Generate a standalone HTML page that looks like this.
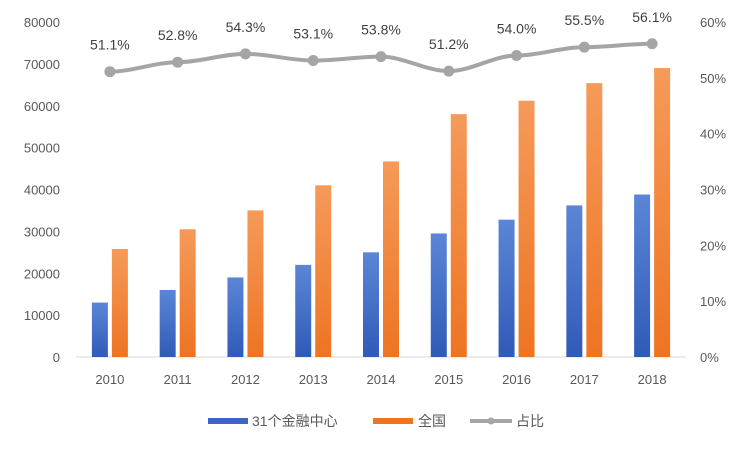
<!DOCTYPE html>
<html><head><meta charset="utf-8"><style>
body{margin:0;background:#fff;}
svg{display:block;font-family:"Liberation Sans","Noto Sans CJK SC",sans-serif;}
</style></head><body>
<svg id="c" width="750" height="450"></svg>
<script>
const categories=['2010','2011','2012','2013','2014','2015','2016','2017','2018'];
const centerValues=[13000,16000,19000,22000,25000,29500,32800,36200,38800];
const nationalValues=[25800,30500,35000,41000,46700,58000,61200,65400,69000];
const shareValues=[51.1,52.8,54.3,53.1,53.8,51.2,54.0,55.5,56.1];
const leftTicks=[0,10000,20000,30000,40000,50000,60000,70000,80000];
const rightTicks=[0,10,20,30,40,50,60];
const NS='http://www.w3.org/2000/svg';
const svg=document.getElementById('c');
const L=76,R=686,T=22,B=357;
const band=(R-L)/categories.length;
const x=i=>L+band*(i+0.5);
const yL=v=>B-(B-T)*v/80000;
const yR=v=>B-(B-T)*v/60;
function el(t,a,txt){const e=document.createElementNS(NS,t);for(const k in a)e.setAttribute(k,a[k]);if(txt!==undefined)e.textContent=txt;svg.appendChild(e);return e;}
const defs=el('defs',{});
defs.innerHTML='<linearGradient id="gb" x1="0" y1="0" x2="0" y2="1"><stop offset="0" stop-color="#5b86d6"/><stop offset="1" stop-color="#2f5bb8"/></linearGradient><linearGradient id="go" x1="0" y1="0" x2="0" y2="1"><stop offset="0" stop-color="#f59a5a"/><stop offset="1" stop-color="#ee7422"/></linearGradient>';
let a=el('line',{x1:L,x2:R,y1:B,y2:B,stroke:'#d9d9d9'});

leftTicks.forEach(v=>{const t=el('text',{x:60,y:yL(v)+5,'text-anchor':'end','font-size':13,fill:'#595959'},String(v));
});
rightTicks.forEach(v=>{const t=el('text',{x:700,y:yR(v)+5,'font-size':13,fill:'#595959'},v+'%');
});
categories.forEach((c,i)=>{
const t=el('text',{x:x(i),y:384,'text-anchor':'middle','font-size':13,fill:'#595959'},c);

const b1=el('rect',{x:x(i)-18,y:yL(centerValues[i]),width:16,height:B-yL(centerValues[i]),fill:'url(#gb)'});

const b2=el('rect',{x:x(i)+2,y:yL(nationalValues[i]),width:16,height:B-yL(nationalValues[i]),fill:'url(#go)'});

});
let d='';shareValues.forEach((v,i)=>{d+=(i?'C'+(x(i-1)+band/3)+','+yR(shareValues[i-1])+' '+(x(i)-band/3)+','+yR(v)+' ':'M')+x(i)+','+yR(v)+' ';});
const ln=el('path',{d:d,fill:'none',stroke:'#a5a5a5','stroke-width':4});

shareValues.forEach((v,i)=>{
const p=el('circle',{cx:x(i),cy:yR(v),r:5.5,fill:'#a5a5a5'});

const t=el('text',{x:x(i),y:yR(v)-22,'text-anchor':'middle','font-size':14,fill:'#404040'},v.toFixed(1)+'%');

});
const lg=[['#3a67c4','31个金融中心',208,252,'rect'],['#ee7422','全国',373,418,'rect'],['#a5a5a5','占比',470,516,'line']];
lg.forEach(g=>{
let s;
if(g[4]=='rect')s=el('rect',{x:g[2],y:418,width:40,height:6,fill:g[0]});
else{s=el('line',{x1:g[2],x2:g[2]+42,y1:421,y2:421,stroke:g[0],'stroke-width':4});el('circle',{cx:g[2]+21,cy:421,r:3.5,fill:g[0]});}

const t=el('text',{x:g[3],y:426,'font-size':14,fill:'#595959'},g[1]);

});
</script>
</body></html>
